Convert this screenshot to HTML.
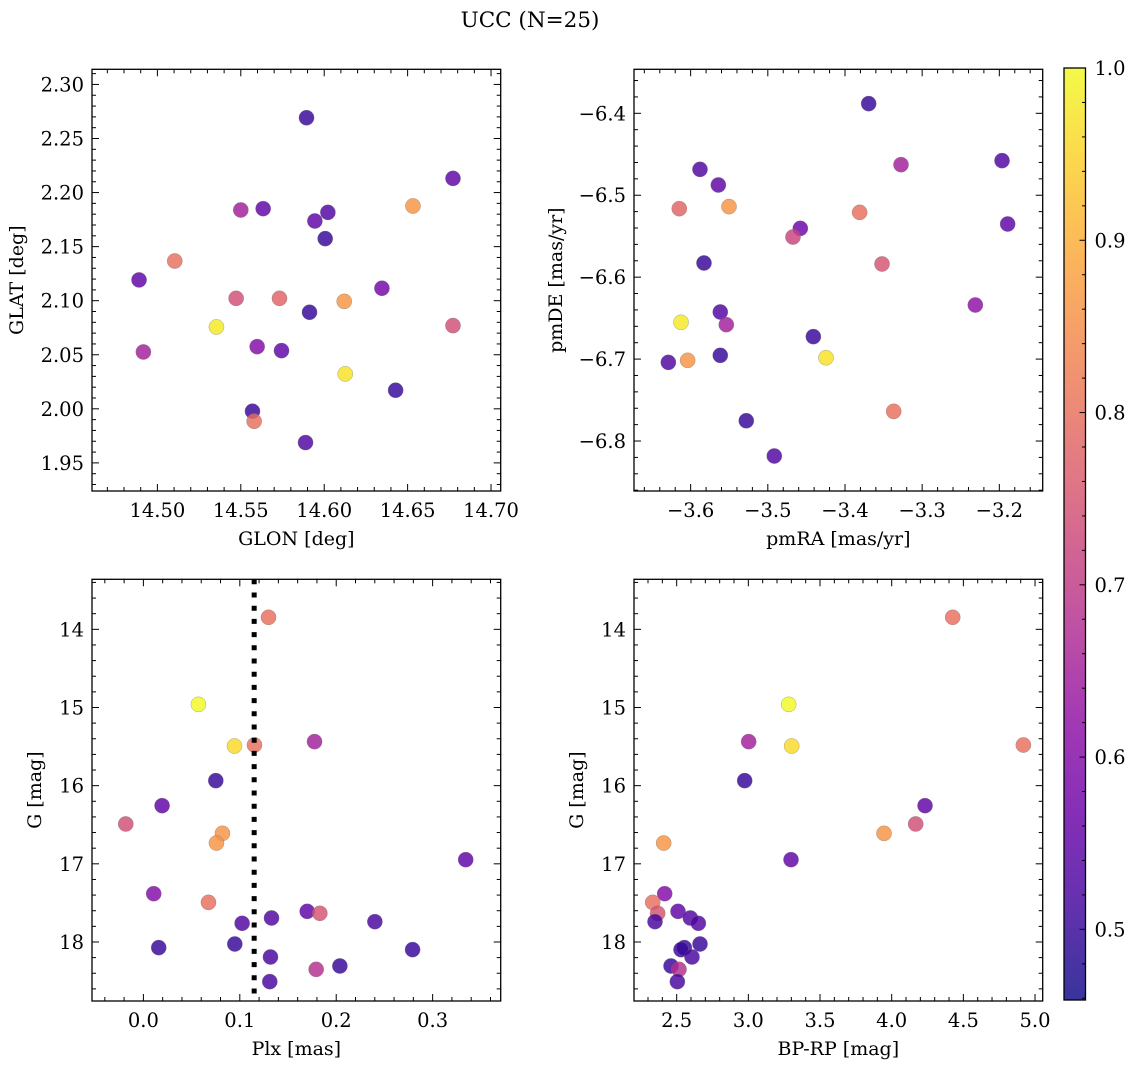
<!DOCTYPE html>
<html><head><meta charset="utf-8"><style>
html,body{margin:0;padding:0;background:#fff;}
svg{display:block;font-family:"DejaVu Serif","Liberation Serif",serif;}
</style></head><body>
<svg id="fig" width="1136" height="1068" viewBox="0 0 1136 1068" xmlns="http://www.w3.org/2000/svg">
<defs>
<linearGradient id="plasma" x1="0" y1="1" x2="0" y2="0"></linearGradient>
</defs>
<text x="530" y="27" font-size="21.5" text-anchor="middle">UCC (N=25)</text>
</svg>
<script>
// ---- data ----
const glon = [14.5894,14.6772,14.6532,14.55,14.5634,14.6022,14.5944,14.6006,14.489,14.5104,14.6346,14.5472,14.5732,14.612,14.5912,14.5354,14.6772,14.4916,14.5598,14.5744,14.6126,14.6428,14.557,14.558,14.5888];
const glat = [2.2692,2.2131,2.1876,2.1839,2.1851,2.1817,2.1737,2.1574,2.1192,2.1367,2.1115,2.1022,2.1022,2.0994,2.0893,2.0757,2.077,2.0526,2.0575,2.0538,2.0323,2.0172,1.9978,1.9885,1.9688];
const probPos = [0.5,0.55,0.86,0.65,0.55,0.53,0.55,0.5,0.55,0.8,0.58,0.74,0.78,0.86,0.5,0.98,0.74,0.65,0.6,0.55,0.97,0.5,0.5,0.8,0.53];
const pmra = [-3.3693,-3.3274,-3.1965,-3.5879,-3.5641,-3.6147,-3.5503,-3.381,-3.4579,-3.4674,-3.1892,-3.5827,-3.352,-3.2311,-3.5616,-3.6125,-3.5538,-3.441,-3.5616,-3.4246,-3.6289,-3.6039,-3.3369,-3.5279,-3.4916];
const pmde = [-6.3882,-6.4627,-6.4578,-6.4684,-6.4875,-6.5164,-6.5139,-6.5209,-6.5404,-6.551,-6.5351,-6.5827,-6.5839,-6.634,-6.6425,-6.6551,-6.658,-6.6726,-6.6954,-6.6983,-6.704,-6.7015,-6.7638,-6.7752,-6.8183];
const probPm = [0.5,0.65,0.53,0.53,0.55,0.78,0.86,0.8,0.57,0.72,0.55,0.5,0.75,0.62,0.53,0.98,0.65,0.5,0.5,0.97,0.53,0.86,0.8,0.5,0.53];
const gmag = [13.846,14.96,15.493,15.48,15.437,15.936,16.256,16.49,16.61,16.734,16.947,17.382,17.493,17.608,17.633,17.693,17.761,17.74,18.026,18.072,18.098,18.192,18.307,18.35,18.507];
const plx = [0.1298,0.0571,0.0945,0.1152,0.1775,0.0751,0.0194,-0.0183,0.082,0.0758,0.3343,0.0107,0.0675,0.1699,0.183,0.1329,0.1024,0.2401,0.0948,0.0159,0.2792,0.1318,0.2038,0.1792,0.1311];
const bprp = [4.4256,3.2814,3.3023,4.9186,3.0023,2.9744,4.2326,4.1674,3.9465,2.4093,3.2977,2.4163,2.3326,2.5093,2.3674,2.5953,2.6512,2.3488,2.6628,2.5535,2.5302,2.607,2.4605,2.5163,2.5047];
const probCmd = [0.8,1.0,0.96,0.8,0.65,0.5,0.55,0.74,0.86,0.86,0.55,0.6,0.8,0.55,0.75,0.53,0.53,0.52,0.5,0.5,0.5,0.52,0.5,0.68,0.52];
const plxLine = [0.1149];
const cbTicks = [0.5,0.6,0.7,0.8,0.9,1.0];

const NS="http://www.w3.org/2000/svg";
const svg=document.getElementById('fig');
const VMIN=0.459, VMAX=1.0;
const TF=19.5, LF=19;
const PL=[[0,13,8,135],[0.1,65,4,157],[0.2,106,0,168],[0.3,143,13,164],[0.4,177,42,144],[0.5,204,71,120],[0.6,225,100,98],[0.7,242,132,75],[0.8,252,166,54],[0.9,252,206,37],[1,240,249,33]];
function plasma(t){t=Math.max(0,Math.min(1,t));for(let i=1;i<PL.length;i++){if(t<=PL[i][0]){const a=PL[i-1],b=PL[i],f=(t-a[0])/(b[0]-a[0]);return `rgb(${Math.round(a[1]+f*(b[1]-a[1]))},${Math.round(a[2]+f*(b[2]-a[2]))},${Math.round(a[3]+f*(b[3]-a[3]))})`;}}return 'rgb(240,249,33)';}
function el(tag,attrs,parent){const e=document.createElementNS(NS,tag);for(const k in attrs)e.setAttribute(k,attrs[k]);(parent||svg).appendChild(e);return e;}
function fmt(v,d){const s=Math.abs(v).toFixed(d);return (v<-1e-9?'\u2212':'')+s;}

function panel(o){
  const g=el('g',{});
  
  
  const X=v=>o.L+(v-o.xmin)/(o.xmax-o.xmin)*(o.R-o.L);
  const Y=v=>o.inv? o.T+(v-o.ymin)/(o.ymax-o.ymin)*(o.B-o.T) : o.B-(v-o.ymin)/(o.ymax-o.ymin)*(o.B-o.T);
  for(let i=0;i<o.xs.length;i++){
    const c=el('circle',{cx:X(o.xs[i]),cy:Y(o.ys[i]),r:7.6,fill:plasma((o.cs[i]-VMIN)/(VMAX-VMIN)),'fill-opacity':0.82,stroke:'#777','stroke-width':0.5,'stroke-opacity':0.6},g);
    
    
  }
  if(o.vline){o.vline.forEach(v=>{const ln=el('line',{x1:X(v),x2:X(v),y1:o.T,y2:o.B,stroke:'#000','stroke-width':5,'stroke-dasharray':'5 8.2'},g);
    
    });}
  el('rect',{x:o.L,y:o.T,width:o.R-o.L,height:o.B-o.T,fill:'none',stroke:'#000','stroke-width':1.3},g);
  const tk=el('g',{stroke:'#000','stroke-width':1},g);
  const eps=1e-9;
  for(let v=Math.ceil(o.xmin/o.xmi-eps)*o.xmi;v<=o.xmax+eps;v+=o.xmi){const x=X(v);const isM=Math.abs(v/o.xma-Math.round(v/o.xma))<1e-6;const len=isM?7:4;
    el('line',{x1:x,x2:x,y1:o.B,y2:o.B-len},tk);el('line',{x1:x,x2:x,y1:o.T,y2:o.T+len},tk);}
  for(let v=Math.ceil(o.ymin/o.ymi-eps)*o.ymi;v<=o.ymax+eps;v+=o.ymi){const y=Y(v);const isM=Math.abs(v/o.yma-Math.round(v/o.yma))<1e-6;const len=isM?7:4;
    el('line',{x1:o.L,x2:o.L+len,y1:y,y2:y},tk);el('line',{x1:o.R,x2:o.R-len,y1:y,y2:y},tk);}
  o.xticks.forEach(v=>{const t=el('text',{x:X(v),y:o.B+26,'font-size':TF,'text-anchor':'middle'},g);t.textContent=fmt(v,o.xd);
    
    });
  o.yticks.forEach(v=>{const t=el('text',{x:o.L-8,y:Y(v)+7,'font-size':TF,'text-anchor':'end'},g);t.textContent=fmt(v,o.yd);
    
    });
  const xl=el('text',{x:(o.L+o.R)/2,y:o.B+54,'font-size':LF,'text-anchor':'middle'},g);xl.textContent=o.xlabel;
  
  
  const yx=o.ylx,yy=(o.T+o.B)/2;
  const yl=el('text',{x:yx,y:yy,'font-size':LF,'text-anchor':'middle',transform:`rotate(-90 ${yx} ${yy})`},g);yl.textContent=o.ylabel;
  
  
}
panel({name:'glon-glat-panel',L:92,R:500.7,T:69.3,B:491,xmin:14.4608,xmax:14.7058,ymin:1.924,ymax:2.314,xs:glon,ys:glat,cs:probPos,xma:0.05,xmi:0.01,yma:0.05,ymi:0.01,xticks:[14.5,14.55,14.6,14.65,14.7],xd:2,yticks:[1.95,2.0,2.05,2.1,2.15,2.2,2.25,2.3],yd:2,xlabel:'GLON [deg]',ylabel:'GLAT [deg]',ylx:23});
panel({name:'pm-panel',L:634,R:1042.7,T:69.3,B:491,xmin:-3.6734,xmax:-3.1438,ymin:-6.861,ymax:-6.3463,xs:pmra,ys:pmde,cs:probPm,xma:0.1,xmi:0.02,yma:0.1,ymi:0.02,xticks:[-3.6,-3.5,-3.4,-3.3,-3.2],xd:1,yticks:[-6.8,-6.7,-6.6,-6.5,-6.4],yd:1,xlabel:'pmRA [mas/yr]',ylabel:'pmDE [mas/yr]',ylx:562});
panel({name:'plx-g-panel',L:92,R:500.7,T:579.3,B:1001,xmin:-0.0533,xmax:0.3706,ymin:13.36,ymax:18.755,inv:true,xs:plx,ys:gmag,cs:probCmd,xma:0.1,xmi:0.02,yma:1,ymi:0.2,xticks:[0,0.1,0.2,0.3],xd:1,yticks:[14,15,16,17,18],yd:0,xlabel:'Plx [mas]',ylabel:'G [mag]',ylx:41,vline:plxLine});
panel({name:'cmd-panel',L:634,R:1042.7,T:579.3,B:1001,xmin:2.2023,xmax:5.0535,ymin:13.36,ymax:18.755,inv:true,xs:bprp,ys:gmag,cs:probCmd,xma:0.5,xmi:0.1,yma:1,ymi:0.2,xticks:[2.5,3,3.5,4,4.5,5],xd:1,yticks:[14,15,16,17,18],yd:0,xlabel:'BP-RP [mag]',ylabel:'G [mag]',ylx:583});

// colorbar
const grad=document.getElementById('plasma');
for(let i=0;i<=20;i++){el('stop',{offset:(i/20),'stop-color':plasma(i/20),'stop-opacity':0.82},grad);}
const cb=el('g',{});


const CT=68,CB=1000,CL=1064,CR=1085.5;
const CY=v=>CB-(v-VMIN)/(VMAX-VMIN)*(CB-CT);
el('rect',{x:CL,y:CT,width:CR-CL,height:CB-CT,fill:'url(#plasma)',stroke:'#000','stroke-width':1.3},cb);
for(let v=0.46;v<=1.0001;v+=0.02){const isM=Math.abs(v*10-Math.round(v*10))<1e-6;el('line',{x1:CR,x2:CR-(isM?6:3.5),y1:CY(v),y2:CY(v),stroke:'#000','stroke-width':1},cb);}
cbTicks.forEach(v=>{const t=el('text',{x:CR+9,y:CY(v)+7,'font-size':TF},cb);t.textContent=v.toFixed(1);
  
  });
</script>
</body></html>
